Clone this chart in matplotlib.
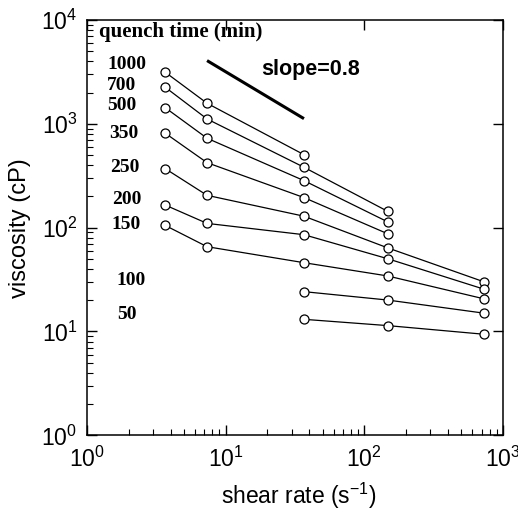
import numpy as np
import matplotlib
matplotlib.use('Agg')
import matplotlib.pyplot as plt

plt.rcParams['font.family'] = ['Liberation Sans', 'DejaVu Sans']
plt.rcParams['mathtext.fontset'] = 'custom'
plt.rcParams['mathtext.rm'] = 'Liberation Sans'

# shear rates (1/s) used by the viscometer
shear = [3.67, 7.34, 36.7, 147, 734]

# viscosity (cP) for each quench time, None where no point
quench_times = ['1000', '700', '500', '350', '250', '200', '150', '100', '50']
visc_1000 = [3140, 1580, 505, None, None]
visc_700 = [2250, 1115, 382, 144, None]
visc_500 = [1430, 727, 284, 114, None]
visc_350 = [812, 423, 195, 87.5, None]
visc_250 = [370, 205, 129, 64, 30]
visc_200 = [165, 110, 85.6, 50.3, 25.5]
visc_150 = [105, 65.6, 46, 34.3, 20.6]
visc_100 = [None, None, 24.2, 20.1, 15.0]
visc_50 = [None, None, 13.1, 11.4, 9.4]
all_visc = [visc_1000, visc_700, visc_500, visc_350, visc_250,
            visc_200, visc_150, visc_100, visc_50]

# label positions (axes fraction)
label_x = [0.095, 0.083, 0.083, 0.088, 0.090, 0.095, 0.095, 0.105, 0.097]
label_y = [0.892, 0.843, 0.795, 0.727, 0.644, 0.567, 0.507, 0.374, 0.290]

# reference slope line
slope_x = [7.34, 36.7]
slope = 0.8
slope_y0 = 4070

fig = plt.figure(figsize=(5.18, 5.12), dpi=100)
ax = fig.add_axes([0.168, 0.1498, 0.803, 0.811])

for v in all_visc:
    xs = [x for x, y in zip(shear, v) if y is not None]
    ys = [y for y in v if y is not None]
    ax.plot(xs, ys, '-o', color='black', lw=0.9, ms=6.5, mfc='white',
            mec='black', mew=0.9)

sy = [slope_y0, slope_y0 * (slope_x[1] / slope_x[0]) ** (-slope)]
ax.plot(slope_x, sy, color='black', lw=2.2, solid_capstyle='butt')

ax.set_xscale('log')
ax.set_yscale('log')
ax.set_xlim(1, 1000)
ax.set_ylim(1, 10000)

for name, lx, ly in zip(quench_times, label_x, label_y):
    ax.text(lx, ly, name, transform=ax.transAxes, ha='center', va='center',
            family='Liberation Serif', fontweight='bold', fontsize=14)
ax.text(0.029, 0.971, 'quench time (min)', transform=ax.transAxes,
        ha='left', va='center', family='Liberation Serif',
        fontweight='bold', fontsize=15)
ax.text(0.418, 0.880, 'slope=0.8', transform=ax.transAxes, ha='left',
        va='center', fontweight='bold', fontsize=15.5)

ax.tick_params(which='major', direction='in', length=7, width=1,
               labelsize=16.5, top=True, right=True)
ax.tick_params(which='minor', direction='in', length=4, width=0.8,
               top=False, right=False)
ax.tick_params(axis='x', pad=8)
ax.tick_params(axis='y', pad=7)
for s in ax.spines.values():
    s.set_linewidth(1.1)

ax.set_xlabel('shear rate (s$^{\\mathdefault{-1}}$)', fontsize=16.5)
ax.set_ylabel('viscosity (cP)', fontsize=17)
ax.xaxis.set_label_coords(0.51, -0.11)
ax.yaxis.set_label_coords(-0.135, 0.5)

fig.savefig('out.png', dpi=100)
